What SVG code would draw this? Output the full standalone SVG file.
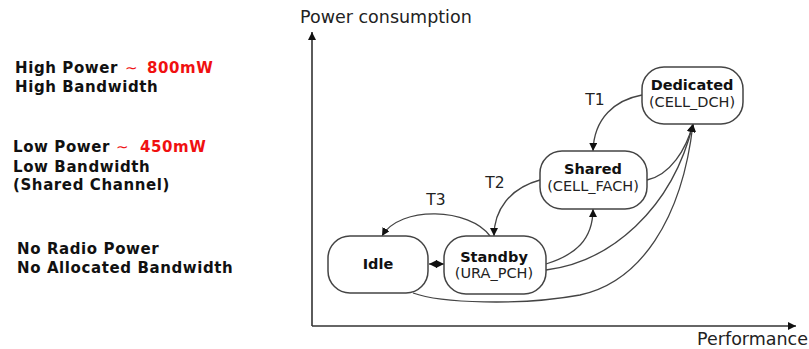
<svg xmlns="http://www.w3.org/2000/svg" width="809" height="349" viewBox="0 0 809 349">
<style>
.lt{font-family:"DejaVu Sans",Verdana,sans-serif;font-weight:bold;font-size:15px;fill:#111;letter-spacing:0.6px}
.red{fill:#f01010}
.ax{font-family:"DejaVu Sans",Verdana,sans-serif;font-size:17.5px;fill:#222}
.nb{font-family:"DejaVu Sans",Verdana,sans-serif;font-weight:bold;font-size:14.5px;fill:#111;text-anchor:middle}
.nn{font-family:"DejaVu Sans",Verdana,sans-serif;font-size:14.5px;fill:#222;text-anchor:middle}
.tl{font-family:"DejaVu Sans",Verdana,sans-serif;font-size:15.5px;fill:#222;text-anchor:middle}
.box{fill:#fff;stroke:#444;stroke-width:1.5}
.cn{fill:none;stroke:#444;stroke-width:1.3}
.axis{fill:none;stroke:#333;stroke-width:1.6}
</style>
<defs>
<marker id="ah" markerUnits="userSpaceOnUse" markerWidth="9" markerHeight="9" refX="8" refY="4" orient="auto">
<path d="M0,0 L8,4 L0,8 z" fill="#111"/>
</marker>
<marker id="ahs" markerUnits="userSpaceOnUse" markerWidth="9" markerHeight="9" refX="8" refY="4" orient="auto-start-reverse">
<path d="M0,0 L8,4 L0,8 z" fill="#111"/>
</marker>
</defs>
<rect width="809" height="349" fill="#fff"/>
<g id="legend">
<text class="lt" x="15" y="73">High Power<tspan class="red" x="125" font-weight="normal">∼</tspan><tspan class="red" x="147">800mW</tspan></text>
<text class="lt" x="15" y="92">High Bandwidth</text>
<text class="lt" x="13" y="152">Low Power<tspan class="red" x="116" font-weight="normal">∼</tspan><tspan class="red" x="140">450mW</tspan></text>
<text class="lt" x="13" y="172">Low Bandwidth</text>
<text class="lt" x="13" y="190">(Shared Channel)</text>
<text class="lt" x="17" y="254">No Radio Power</text>
<text class="lt" x="17" y="273">No Allocated Bandwidth</text>
</g>
<g id="axes">
<path class="axis" d="M312,326 L312,32" marker-end="url(#ah)"/>
<path class="axis" d="M312,326 L796,326" marker-end="url(#ah)"/>
<text class="ax" x="300" y="23" font-size="18">Power consumption</text>
<text class="ax" x="808" y="345" text-anchor="end">Performance</text>
</g>
<g id="connectors">
<path class="cn" d="M642,95 C615,100 594,118 593,151" marker-end="url(#ah)"/>
<path class="cn" d="M540,180 C510,188 494,210 494,236" marker-end="url(#ah)"/>
<path class="cn" d="M490,236 C470,208 400,205 382,236" marker-end="url(#ah)"/>
<path class="cn" d="M546,264 C575,255 593,240 593,209" marker-end="url(#ah)"/>
<path class="cn" d="M647,180 C670,175 686,150 693,124" marker-end="url(#ah)"/>
<path class="cn" d="M546,270 C610,262 672,210 693,124" marker-end="url(#ah)"/>
<path class="cn" d="M413,293 C440,303 520,306 580,295 C640,282 682,220 693,124" marker-end="url(#ah)"/>
<path class="cn" d="M429,264 L444,264" marker-start="url(#ahs)" marker-end="url(#ah)"/>
<text class="tl" x="595" y="105">T1</text>
<text class="tl" x="495" y="188">T2</text>
<text class="tl" x="436" y="205">T3</text>
</g>
<g id="dedicated">
<rect class="box" x="642" y="67" width="101" height="57" rx="22"/>
<text class="nb" x="692" y="90">Dedicated</text>
<text class="nn" x="692" y="107">(CELL_DCH)</text>
</g>
<g id="shared">
<rect class="box" x="540" y="151" width="107" height="58" rx="22"/>
<text class="nb" x="593" y="174">Shared</text>
<text class="nn" x="593" y="191">(CELL_FACH)</text>
</g>
<g id="idle">
<rect class="box" x="328" y="236" width="100" height="57" rx="22"/>
<text class="nb" x="378" y="269">Idle</text>
</g>
<g id="standby">
<rect class="box" x="444" y="236" width="102" height="58" rx="22"/>
<text class="nb" x="494" y="262">Standby</text>
<text class="nn" x="494" y="278">(URA_PCH)</text>
</g>
</svg>
